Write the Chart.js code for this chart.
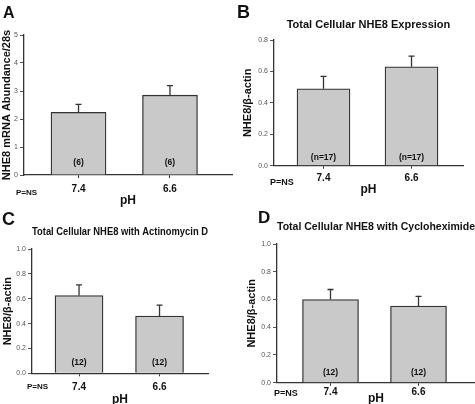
<!DOCTYPE html>
<html lang="en">
<head>
<meta charset="UTF-8">
<title>NHE8 expression at pH 7.4 and 6.6</title>
<script src="https://cdn.jsdelivr.net/npm/chart.js"></script>
<style>
  body { margin: 0; background: #fff; font-family: 'Liberation Sans', Arial, sans-serif; }
  #wrap { position: relative; width: 475px; height: 404px; overflow: hidden; }
  canvas { position: absolute; }
  .letter { position: absolute; font-weight: bold; line-height: 1; color: #111; }
  .pval { position: absolute; font-weight: bold; line-height: 1; color: #111; white-space: nowrap; }
</style>
</head>
<body>
<div id="wrap">
  <canvas id="chartA" width="237" height="210" style="left:0;top:0"></canvas>
  <canvas id="chartB" width="238" height="204" style="left:237px;top:0"></canvas>
  <canvas id="chartC" width="237" height="204" style="left:0;top:204px"></canvas>
  <canvas id="chartD" width="238" height="204" style="left:237px;top:204px"></canvas>

  <div class="letter" style="left:3px;top:5px;font-size:16px">A</div>
  <div class="letter" style="left:237px;top:3px;font-size:18px">B</div>
  <div class="letter" style="left:2px;top:210px;font-size:18px">C</div>
  <div class="letter" style="left:258px;top:209px;font-size:17px">D</div>

  <div class="pval" style="left:16px;top:189px;font-size:8px">P=NS</div>
  <div class="pval" style="left:270px;top:178px;font-size:9px">P=NS</div>
  <div class="pval" style="left:27px;top:383px;font-size:8px">P=NS</div>
  <div class="pval" style="left:274px;top:389px;font-size:9px">P=NS</div>
</div>
<script>
    // values (mean, SEM, n per bar)
    const phLabels = ['7.4', '6.6'];

    const mrnaMean = [2.24, 2.85];
    const mrnaErr = [0.28, 0.34];
    const mrnaN = ['(6)', '(6)'];

    const totalMean = [0.49, 0.63];
    const totalErr = [0.078, 0.068];
    const totalN = ['(n=17)', '(n=17)'];

    const actinoMean = [0.625, 0.46];
    const actinoErr = [0.086, 0.088];
    const actinoN = ['(12)', '(12)'];

    const cycloMean = [0.60, 0.553];
    const cycloErr = [0.072, 0.07];
    const cycloN = ['(12)', '(12)'];

    Chart.defaults.font.family = "'Liberation Sans', Arial, sans-serif";

    // draws the SEM whiskers and the n labels inside the bars
    const barNotes = {
        id: 'barNotes',
        afterDatasetsDraw(chart, args, opts) {
            const ctx = chart.ctx;
            const yScale = chart.scales.y;
            const ds = chart.data.datasets[0];
            const meta = chart.getDatasetMeta(0);
            ctx.save();
            ctx.strokeStyle = '#333';
            ctx.lineWidth = 1.3;
            meta.data.forEach((bar, i) => {
                const yTop = yScale.getPixelForValue(ds.data[i].y + ds.errors[i]);
                ctx.beginPath();
                ctx.moveTo(bar.x, bar.y);
                ctx.lineTo(bar.x, yTop);
                ctx.moveTo(bar.x - 3, yTop);
                ctx.lineTo(bar.x + 3, yTop);
                ctx.stroke();

                ctx.fillStyle = '#111';
                ctx.font = "bold 8.5px 'Liberation Sans', Arial, sans-serif";
                ctx.textAlign = 'center';
                ctx.textBaseline = 'middle';
                ctx.fillText(ds.counts[i], bar.x, yScale.getPixelForValue(0) - opts.offset);
            });
            ctx.restore();
        }
    };

    function makePanel(id, o) {
        return new Chart(document.getElementById(id), {
            type: 'bar',
            data: {
                datasets: [{
                    data: o.means.map((m, i) => ({ x: i + 1, y: m })),
                    errors: o.errs,
                    counts: o.counts,
                    backgroundColor: '#c9c9c9',
                    borderColor: '#333',
                    borderWidth: 1.3,
                    barThickness: o.barWidth
                }]
            },
            options: {
                responsive: false,
                animation: false,
                layout: { padding: o.padding },
                plugins: {
                    legend: { display: false },
                    tooltip: { enabled: false },
                    title: o.title ? {
                        display: true,
                        text: o.title,
                        fullSize: false,
                        color: '#111',
                        font: { size: o.titleSize, weight: 'bold' },
                        padding: { top: o.titlePad[0], bottom: o.titlePad[1] }
                    } : { display: false },
                    barNotes: { offset: o.countOffset }
                },
                scales: {
                    x: {
                        type: 'linear',
                        offset: false,
                        min: o.xMin,
                        max: o.xMax,
                        afterBuildTicks: s => { s.ticks = phLabels.map((_, i) => ({ value: i + 1 })); },
                        afterFit: s => { s.height = o.xHeight; },
                        grid: { offset: false, drawOnChartArea: false, tickLength: 3, color: '#333' },
                        border: { color: '#333', width: 1.3 },
                        ticks: {
                            callback: v => phLabels[v - 1],
                            color: '#111',
                            font: { size: 10, weight: 'bold' },
                            padding: o.xTickPad,
                            maxRotation: 0
                        },
                        title: {
                            display: true,
                            text: 'pH',
                            color: '#111',
                            font: { size: 12, weight: 'bold' },
                            padding: { top: 0, bottom: o.pHPad }
                        }
                    },
                    y: {
                        min: 0,
                        max: o.yMax,
                        afterFit: s => { s.width = o.yWidth; },
                        grid: { drawOnChartArea: false, tickLength: 4, color: '#555' },
                        border: { color: '#333', width: 1.3 },
                        ticks: {
                            stepSize: o.yStep,
                            color: '#555',
                            font: { size: 7 },
                            padding: 2,
                            callback: v => v.toFixed(o.yDigits)
                        },
                        title: {
                            display: true,
                            text: o.yTitle,
                            color: '#111',
                            font: { size: 11, weight: 'bold' },
                            padding: { top: o.yTitlePad, bottom: 0 }
                        }
                    }
                }
            },
            plugins: [barNotes]
        });
    }

    makePanel('chartA', {
        means: mrnaMean, errs: mrnaErr, counts: mrnaN,
        yTitle: 'NHE8 mRNA Abundance/28s', yMax: 5, yStep: 1, yDigits: 0,
        padding: { top: 35, right: 5, bottom: 0, left: 0 },
        yWidth: 24, xHeight: 35, xMin: 0.404, xMax: 2.678, barWidth: 55,
        yTitlePad: 0, xTickPad: 5, pHPad: 1.8, countOffset: 12
    });

    makePanel('chartB', {
        means: totalMean, errs: totalErr, counts: totalN,
        title: 'Total Cellular NHE8 Expression', titleSize: 11, titlePad: [18.4, 8.4],
        yTitle: 'NHE8/β-actin', yMax: 0.8, yStep: 0.2, yDigits: 1,
        padding: { top: 0, right: 12, bottom: 0, left: 0 },
        yWidth: 37, xHeight: 38.3, xMin: 0.4375, xMax: 2.585, barWidth: 53,
        yTitlePad: 4.4, xTickPad: 3.8, pHPad: 6.8, countOffset: 8
    });

    makePanel('chartC', {
        means: actinoMean, errs: actinoErr, counts: actinoN,
        title: 'Total Cellular NHE8 with Actinomycin D', titleSize: 10.5, titlePad: [21.7, 10.7],
        yTitle: 'NHE8/β-actin', yMax: 1, yStep: 0.2, yDigits: 1,
        padding: { top: 0, right: 29, bottom: 0, left: 0 },
        yWidth: 32, xHeight: 34.7, xMin: 0.416, xMax: 2.602, barWidth: 48,
        yTitlePad: 1, xTickPad: 5.2, pHPad: 0.8, countOffset: 11
    });

    makePanel('chartD', {
        means: cycloMean, errs: cycloErr, counts: cycloN,
        title: 'Total Cellular NHE8 with Cycloheximide', titleSize: 10.7, titlePad: [16.6, 10.6],
        yTitle: 'NHE8/β-actin', yMax: 1, yStep: 0.2, yDigits: 1,
        padding: { top: 0, right: 0, bottom: 0, left: 0 },
        yWidth: 40, xHeight: 25.3, xMin: 0.392, xMax: 2.642, barWidth: 56,
        yTitlePad: 8.4, xTickPad: 0.5, pHPad: 2.3, countOffset: 10
    });
</script>
</body>
</html>
